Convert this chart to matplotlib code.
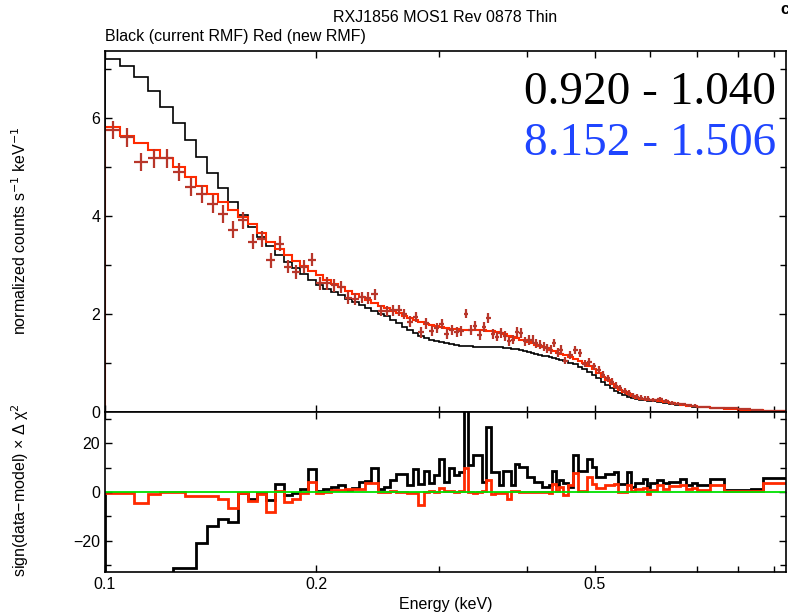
import numpy as np
import matplotlib
matplotlib.use('Agg')
import matplotlib.pyplot as plt
from matplotlib.ticker import FixedLocator, FixedFormatter, NullFormatter, MultipleLocator

# energy bin edges (keV)
bin_edges = [
    0.100, 0.105, 0.110, 0.115, 0.120, 0.125, 0.130, 0.135, 0.140, 0.145,
    0.150, 0.155, 0.160, 0.165, 0.170, 0.175, 0.180, 0.185, 0.190, 0.195,
    0.200, 0.205, 0.210, 0.215, 0.220, 0.225, 0.230, 0.235, 0.240, 0.245,
    0.250, 0.255, 0.260, 0.265, 0.270, 0.275, 0.280, 0.285, 0.290, 0.295,
    0.300, 0.305, 0.310, 0.315, 0.320, 0.325, 0.330, 0.335, 0.340, 0.345,
    0.350, 0.355, 0.360, 0.365, 0.370, 0.375, 0.380, 0.385, 0.390, 0.395,
    0.400, 0.405, 0.410, 0.415, 0.420, 0.425, 0.430, 0.435, 0.440, 0.445,
    0.450, 0.4575, 0.465, 0.4725, 0.480, 0.4875, 0.495, 0.5025, 0.510, 0.5175,
    0.525, 0.5325, 0.540, 0.5475, 0.555, 0.5625, 0.570, 0.5775, 0.585, 0.5925,
    0.600, 0.6125, 0.625, 0.6375, 0.650, 0.6625, 0.675, 0.6875,
    0.700, 0.730, 0.765, 0.800, 0.835, 0.870, 0.940,
]

# model, current RMF (black)
model_black = [
    7.20, 7.07, 6.84, 6.56, 6.23, 5.90, 5.56, 5.21, 4.88, 4.58,
    4.28, 4.02, 3.78, 3.57, 3.38, 3.21, 3.06, 2.93, 2.81, 2.70,
    2.60, 2.52, 2.45, 2.38, 2.31, 2.25, 2.19, 2.13, 2.07, 2.01,
    1.95, 1.88, 1.81, 1.74, 1.67, 1.61, 1.56, 1.52, 1.48, 1.45,
    1.42, 1.40, 1.38, 1.36, 1.35, 1.34, 1.34, 1.33, 1.33, 1.33,
    1.33, 1.33, 1.32, 1.32, 1.31, 1.30, 1.29, 1.28, 1.26, 1.25,
    1.23, 1.21, 1.19, 1.17, 1.15, 1.14, 1.12, 1.10, 1.08, 1.06,
    1.04, 1.01, 0.97, 0.92, 0.87, 0.82, 0.76, 0.69, 0.62, 0.55,
    0.49, 0.43, 0.38, 0.34, 0.31, 0.29, 0.27, 0.25, 0.24, 0.23,
    0.22, 0.20, 0.18, 0.17, 0.15, 0.14, 0.12, 0.11,
    0.10, 0.08, 0.06, 0.04, 0.03, 0.02,
]

# model, new RMF (red)
model_red = [
    5.82, 5.63, 5.50, 5.35, 5.18, 5.00, 4.80, 4.61, 4.45, 4.29,
    4.12, 3.98, 3.84, 3.66, 3.48, 3.33, 3.20, 3.08, 2.98, 2.88,
    2.79, 2.70, 2.62, 2.55, 2.48, 2.41, 2.35, 2.29, 2.23, 2.17,
    2.12, 2.07, 2.02, 1.97, 1.92, 1.87, 1.83, 1.80, 1.77, 1.75,
    1.73, 1.71, 1.70, 1.69, 1.68, 1.67, 1.67, 1.67, 1.67, 1.67,
    1.66, 1.65, 1.63, 1.61, 1.59, 1.56, 1.53, 1.51, 1.48, 1.46,
    1.43, 1.40, 1.37, 1.34, 1.32, 1.30, 1.27, 1.24, 1.21, 1.19,
    1.16, 1.13, 1.09, 1.05, 1.00, 0.94, 0.87, 0.80, 0.72, 0.65,
    0.58, 0.51, 0.45, 0.40, 0.36, 0.32, 0.29, 0.27, 0.26, 0.25,
    0.24, 0.22, 0.20, 0.18, 0.16, 0.15, 0.13, 0.12,
    0.11, 0.09, 0.07, 0.05, 0.035, 0.025,
]

# observed spectrum
data_flux = [
    5.76, 5.61, 5.10, 5.18, 5.18, 4.90, 4.59, 4.45, 4.25, 4.04,
    3.72, 3.91, 3.48, 3.53, 3.10, 3.44, 2.97, 2.86, 2.97, 3.11,
    2.63, 2.63, 2.59, 2.55, 2.33, 2.31, 2.34, 2.33, 2.40, 2.07,
    2.06, 2.08, 2.08, 2.00, 1.84, 1.94, 1.63, 1.81, 1.66, 1.72,
    1.80, 1.60, 1.67, 1.64, 1.66, 2.01, 1.67, 1.76, 1.57, 1.74,
    1.92, 1.59, 1.54, 1.61, 1.55, 1.44, 1.48, 1.64, 1.61, 1.44,
    1.47, 1.48, 1.40, 1.37, 1.33, 1.30, 1.27, 1.41, 1.21, 1.27,
    1.05, 1.16, 1.26, 1.20, 0.99, 1.02, 0.93, 0.85, 0.76, 0.69,
    0.62, 0.54, 0.49, 0.43, 0.38, 0.33, 0.31, 0.29, 0.27, 0.27,
    0.25, 0.26, 0.23, 0.19, 0.17, 0.16, 0.14, 0.13,
    0.11, 0.09, 0.075, 0.055, 0.04, 0.03,
]

data_err = [
    0.19, 0.19, 0.19, 0.19, 0.19, 0.19, 0.19, 0.19, 0.19, 0.19,
    0.17, 0.17, 0.16, 0.16, 0.15, 0.15, 0.14, 0.14, 0.14, 0.13,
    0.13, 0.13, 0.13, 0.12, 0.12, 0.12, 0.12, 0.12, 0.12, 0.12,
    0.11, 0.11, 0.11, 0.11, 0.11, 0.11, 0.11, 0.11, 0.10, 0.10,
    0.10, 0.10, 0.10, 0.10, 0.10, 0.10, 0.10, 0.10, 0.10, 0.10,
    0.10, 0.10, 0.10, 0.10, 0.10, 0.10, 0.10, 0.10, 0.10, 0.10,
    0.10, 0.10, 0.09, 0.09, 0.09, 0.09, 0.09, 0.09, 0.09, 0.09,
    0.08, 0.08, 0.08, 0.08, 0.08, 0.08, 0.08, 0.08, 0.07, 0.07,
    0.07, 0.07, 0.06, 0.06, 0.06, 0.05, 0.05, 0.05, 0.05, 0.05,
    0.04, 0.04, 0.04, 0.04, 0.03, 0.03, 0.03, 0.03,
    0.02, 0.02, 0.02, 0.02, 0.02, 0.02,
]

# sign(data-model) x delta chi^2
resid_black = [
    -80.0, -70.0, -60.0, -50.0, -40.0, -31.0, -31.0, -20.8, -13.9, -11.0,
    -12.2, -0.5, -2.9, -0.5, -3.3, 3.3, -1.2, -0.4, 1.1, 9.3,
    0.3, 1.1, 2.0, 2.7, 0.7, 1.6, 4.1, 4.5, 9.8, 1.1,
    2.0, 4.8, 7.5, 7.5, 2.7, 9.3, 3.4, 8.4, 3.8, 6.8,
    13.6, 4.1, 9.8, 6.8, 8.2, 45.0, 11.0, 15.0, 15.0, 4.2,
    26.7, 8.3, 8.3, 2.9, 8.6, 8.6, 2.9, 11.4, 10.4, 10.4,
    6.3, 6.3, 4.2, 4.2, 1.9, 1.9, 3.0, 8.4, 3.0, 4.8,
    3.5, 2.0, 15.2, 8.5, 8.5, 13.5, 10.2, 6.1, 6.1, 7.5,
    7.5, 8.2, 3.4, 3.4, 8.0, 2.0, 3.5, 3.5, 5.2, 2.0,
    3.5, 5.0, 3.5, 4.2, 4.2, 5.4, 2.9, 3.5,
    3.0, 5.2, 1.0, 0.8, 1.1, 5.7,
]

resid_red = [
    -0.5, -0.5, -4.4, -1.0, 0.0, 0.0, -1.6, -1.6, -1.6, -2.7,
    -6.4, -0.5, -3.7, -1.0, -8.0, 0.5, -4.0, -3.0, -0.6, 4.1,
    -0.6, 0.0, 1.0, 0.8, 1.3, 1.4, 1.4, 3.8, 3.7, 0.0,
    0.0, 0.3, 0.0, 0.0, -0.5, -0.3, -5.5, 0.0, 0.3, 0.0,
    1.6, 0.4, 0.4, 0.0, 0.4, 9.8, 0.0, -0.3, 0.0, 0.4,
    4.8, -0.7, -0.3, -0.3, -0.3, -2.9, 0.6, 0.6, 0.0, 0.0,
    0.0, 0.0, 0.0, 0.0, 0.0, 0.0, -0.3, 3.4, 0.3, 2.0,
    -1.4, 3.0, 7.9, 0.3, 0.3, 6.1, 3.4, 1.6, 1.6, 3.0,
    3.0, 3.4, 0.0, 0.0, 3.0, 0.3, 1.4, 1.4, 1.6, -1.0,
    1.0, 3.0, 1.4, 2.4, 2.4, 2.7, 1.1, 1.6,
    1.0, 3.0, 0.3, 0.3, 0.3, 3.7,
]

plt.rcParams['font.family'] = ['Liberation Sans', 'DejaVu Sans']
plt.rcParams['font.size'] = 11.5

edges = np.array(bin_edges)
centers = 0.5 * (edges[:-1] + edges[1:])
half_w = 0.5 * np.diff(edges)

W, H = 788, 615
fig = plt.figure(figsize=(W / 100, H / 100), dpi=100)
ax1 = fig.add_axes([105 / W, 1 - 412 / H, 681 / W, 361 / H])
ax2 = fig.add_axes([105 / W, 1 - 572 / H, 681 / W, 160 / H])

# spectrum panel
ax1.stairs(model_black, edges, color='black', lw=1.2)
ax1.errorbar(centers, data_flux, xerr=half_w, yerr=data_err, fmt='none',
             ecolor='#b8362a', elinewidth=1.6)
ax1.stairs(model_red, edges, color='#ff2a00', lw=1.5)
ax1.set_ylim(0, 7.37)

# residual panel
ax2.stairs(resid_black, edges, color='black', lw=2.0)
ax2.stairs(resid_red, edges, color='#ff2a00', lw=2.0)
ax2.axhline(0, color='#00e000', lw=1.3)
ax2.set_ylim(-32.7, 32.7)

for ax in (ax1, ax2):
    ax.set_xscale('log')
    ax.set_xlim(0.1, 0.937)
    ax.xaxis.set_major_locator(FixedLocator([0.1, 0.2, 0.5]))
    ax.xaxis.set_minor_locator(FixedLocator([0.3, 0.4, 0.6, 0.7, 0.8, 0.9]))
    ax.xaxis.set_major_formatter(FixedFormatter(['0.1', '0.2', '0.5']))
    ax.xaxis.set_minor_formatter(NullFormatter())
    ax.tick_params(which='both', direction='in', top=True, right=True,
                   width=1.0, labelsize=11.5)
    ax.tick_params(which='major', length=5)
    ax.tick_params(which='minor', length=4)
    for sp in ax.spines.values():
        sp.set_linewidth(1.2)

ax1.tick_params(labelbottom=False)
ax1.yaxis.set_major_locator(FixedLocator([0, 2, 4, 6]))
ax1.yaxis.set_minor_locator(MultipleLocator(1))
ax2.yaxis.set_major_locator(FixedLocator([-20, 0, 20]))
ax2.yaxis.set_minor_locator(MultipleLocator(10))

fig.text(445 / W, 1 - 18 / H, 'RXJ1856 MOS1 Rev 0878 Thin', ha='center', va='center', fontsize=11.5)
fig.text(105 / W, 1 - 37 / H, 'Black (current RMF) Red (new RMF)', ha='left', va='center', fontsize=11.5)
fig.text(780 / W, 1 - 9 / H, 'c', ha='left', va='center', fontsize=12, fontweight='bold')

fig.text(20 / W, 1 - 231 / H, 'normalized counts s$^{-1}$ keV$^{-1}$', rotation=90,
         ha='center', va='center', fontsize=11.5)
fig.text(20 / W, 1 - 490 / H, 'sign(data\u2212model) \u00d7 \u0394 \u03c7$^2$', rotation=90,
         ha='center', va='center', fontsize=11.5)
fig.text(446 / W, 1 - 604 / H, 'Energy (keV)', ha='center', va='center', fontsize=11.5)

ax1.text(0.985, 0.884, '0.920 - 1.040', transform=ax1.transAxes, ha='right', va='center',
         fontsize=34, family=['Liberation Serif', 'DejaVu Serif'], color='black')
ax1.text(0.985, 0.744, '8.152 - 1.506', transform=ax1.transAxes, ha='right', va='center',
         fontsize=34, family=['Liberation Serif', 'DejaVu Serif'], color='#1f45ff')

fig.savefig('out.png', dpi=100)
